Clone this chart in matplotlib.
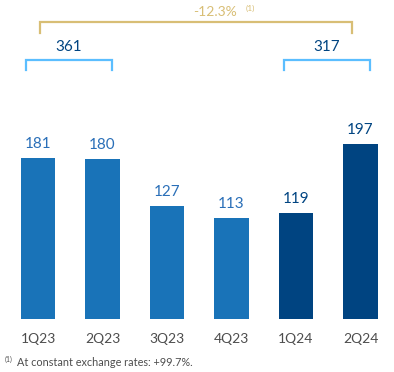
import matplotlib
matplotlib.use("Agg")
import matplotlib.pyplot as plt

categories = ["1Q23", "2Q23", "3Q23", "4Q23", "1Q24", "2Q24"]
values = [181, 180, 127, 113, 119, 197]
bar_colors = ["#1973B8"] * 4 + ["#004481"] * 2
label_colors = ["#2A6FB8"] * 4 + ["#004481"] * 2
sum_2023 = "361"
sum_2024 = "317"
change_text = "-12.3%"
footnote = "At constant exchange rates: +99.7%."

plt.rcParams['font.family'] = ['Lato', 'DejaVu Sans']

W, H = 394, 372
fig = plt.figure(figsize=(W / 100, H / 100), dpi=100)
base_px = 319
ax = fig.add_axes([0, (H - base_px) / H, 1, base_px / H])
scale = 0.89
ax.set_xlim(-38 / 64.5, (W - 38) / 64.5)
ax.set_ylim(0, base_px / scale)
ax.axis("off")

x = list(range(len(categories)))
ax.bar(x, values, width=0.53, color=bar_colors)
for xi, v, c in zip(x, values, label_colors):
    ax.text(xi, v + 8, str(v), ha="center", va="bottom", fontsize=11, color=c)

# tick labels
for xi, cat in zip(x, categories):
    fig.text((38 + 64.5 * xi) / W, 1 - 339 / H, cat, ha="center", va="center",
             fontsize=10, color="#4D4D4D")

def bracket(x0, x1, ytop, ybot, color):
    ax.plot([x0, x0, x1, x1], [ybot, ytop, ytop, ybot], color=color, lw=1.6,
            solid_joinstyle="miter", clip_on=False)

blue = "#5BBEFF"
gold = "#D8BE75"
bracket(-0.186, 1.147, 291, 280, blue)
bracket(3.814, 5.147, 291, 280, blue)
bracket(0.031, 4.868, 333.5, 321, gold)
ax.text(0.48, 298, sum_2023, ha="center", va="bottom", fontsize=11, color="#004481")
ax.text(4.48, 298, sum_2024, ha="center", va="bottom", fontsize=11, color="#004481")
fig.text(215 / W, 1 - 12 / H, change_text, ha="center", va="center", fontsize=10, color=gold)
fig.text(246 / W, 1 - 8 / H, "(1)", ha="left", va="center", fontsize=6, color=gold)

fig.text(5 / W, 1 - 359 / H, "(1)", ha="left", va="center", fontsize=5, color="#4D4D4D")
fig.text(17 / W, 1 - 362 / H, footnote, ha="left", va="center", fontsize=7.8, color="#4D4D4D")

fig.savefig("out.png", dpi=100)
